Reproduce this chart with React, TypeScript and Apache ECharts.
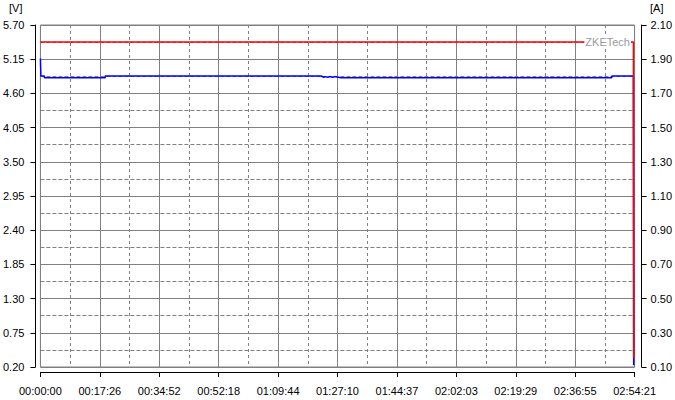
import React, { useEffect, useRef } from "react";
import * as echarts from "echarts";

// ---- data ----
const X_LABELS = [
  "00:00:00", "00:17:26", "00:34:52", "00:52:18", "01:09:44", "01:27:10",
  "01:44:37", "02:02:03", "02:19:29", "02:36:55", "02:54:21",
];
const X_MAX_S = 10461; // 02:54:21 in seconds

const V_MIN = 0.2;
const V_MAX = 5.7;
const V_STEP = 0.55;
const A_MIN = 0.1;
const A_MAX = 2.1;
const A_STEP = 0.2;

// time (s), voltage (V), current (A)
const TIME_S = [
  0, 8, 70, 72, 1139, 1141, 4941, 4990, 5010, 5060, 5090, 5150, 5180, 5240,
  5292, 10058, 10060, 10440, 10445,
];
const VOLTAGE_V = [
  5.16, 4.88, 4.88, 4.85, 4.85, 4.88, 4.88, 4.86, 4.87, 4.86, 4.87, 4.86,
  4.87, 4.86, 4.85, 4.85, 4.88, 4.88, 0.23,
];
const CURRENT_A = [
  2.0, 2.0, 2.0, 2.0, 2.0, 2.0, 2.0, 2.0, 2.0, 2.0, 2.0, 2.0, 2.0, 2.0, 2.0,
  2.0, 2.0, 2.0, 0.15,
];

const FONT = "'Liberation Sans', Arial, sans-serif";
const GRID_COLOR = "#808080";

export default function App() {
  const ref = useRef<HTMLDivElement>(null);

  useEffect(() => {
    if (!ref.current) return;
    const chart = echarts.init(ref.current, null, { renderer: "svg" });
    const xInterval = X_MAX_S / 10;

    const axisText = { color: "#000", fontSize: 11, fontFamily: FONT };

    chart.setOption({
      animation: false,
      backgroundColor: "#ffffff",
      grid: {
        left: 38,
        right: 40,
        top: 25,
        bottom: 33,
        show: true,
        borderColor: GRID_COLOR,
        borderWidth: 1,
        containLabel: false,
      },
      xAxis: {
        type: "value",
        min: 0,
        max: X_MAX_S,
        interval: xInterval,
        offset: 5,
        axisLine: { show: true, onZero: false, lineStyle: { color: "#000", width: 1 } },
        axisTick: { show: true, length: 5, lineStyle: { color: "#000" } },
        minorTick: { show: false, splitNumber: 2 },
        axisLabel: {
          ...axisText,
          margin: 13,
          showMinLabel: true,
          showMaxLabel: true,
          formatter: (v: number) => X_LABELS[Math.round(v / xInterval)] ?? "",
        },
        splitLine: { show: true, lineStyle: { color: GRID_COLOR, width: 1, type: "solid" } },
        minorSplitLine: {
          show: true,
          lineStyle: { color: GRID_COLOR, width: 1, type: [3, 3] },
        },
      },
      yAxis: [
        {
          type: "value",
          position: "left",
          min: 0,
          max: V_MAX - V_MIN,
          interval: V_STEP,
          offset: 5,
          axisLine: { show: true, onZero: false, lineStyle: { color: "#000", width: 1 } },
          axisTick: { show: true, length: 5, lineStyle: { color: "#000" } },
          minorTick: { show: false, splitNumber: 2 },
          axisLabel: {
            ...axisText,
            margin: 11,
            showMinLabel: true,
            showMaxLabel: true,
            formatter: (v: number) => (v + V_MIN).toFixed(2),
          },
          splitLine: { show: true, lineStyle: { color: GRID_COLOR, width: 1, type: "solid" } },
          minorSplitLine: {
            show: true,
            lineStyle: { color: GRID_COLOR, width: 1, type: [4, 2] },
          },
        },
        {
          type: "value",
          position: "right",
          min: 0,
          max: A_MAX - A_MIN,
          interval: A_STEP,
          offset: 7,
          axisLine: { show: true, onZero: false, lineStyle: { color: "#000", width: 1 } },
          axisTick: { show: true, length: 5, lineStyle: { color: "#000" } },
          axisLabel: {
            ...axisText,
            margin: 9,
            showMinLabel: true,
            showMaxLabel: true,
            formatter: (v: number) => (v + A_MIN).toFixed(2),
          },
          splitLine: { show: false },
        },
      ],
      graphic: [
        {
          type: "text",
          left: 9,
          top: 2,
          style: { text: "[V]", fill: "#000", font: `11px ${FONT}` },
        },
        {
          type: "text",
          left: 650,
          top: 2,
          style: { text: "[A]", fill: "#000", font: `11px ${FONT}` },
        },
        {
          type: "text",
          x: 631,
          y: 42,
          z: 100,
          style: {
            text: "ZKETech",
            fill: "#9a9a9a",
            font: `11px ${FONT}`,
            align: "right",
            verticalAlign: "middle",
            backgroundColor: "#ffffff",
            padding: [0, 1],
          },
        },
      ],
      series: [
        {
          name: "Voltage",
          type: "line",
          yAxisIndex: 0,
          showSymbol: false,
          symbol: "none",
          data: TIME_S.map((t, i) => [t, VOLTAGE_V[i] - V_MIN]),
          lineStyle: { color: "#0000ff", width: 1.5 },
          z: 3,
        },
        {
          name: "Current",
          type: "line",
          yAxisIndex: 1,
          showSymbol: false,
          symbol: "none",
          data: TIME_S.map((t, i) => [t, CURRENT_A[i] - A_MIN]),
          lineStyle: { color: "#ff0000", width: 1.5 },
          z: 4,
        },
      ],
    });

    return () => chart.dispose();
  }, []);

  return (
    <div
      ref={ref}
      style={{
        position: "absolute",
        left: 0,
        top: 0,
        width: 675,
        height: 400,
        background: "#fff",
      }}
    />
  );
}
